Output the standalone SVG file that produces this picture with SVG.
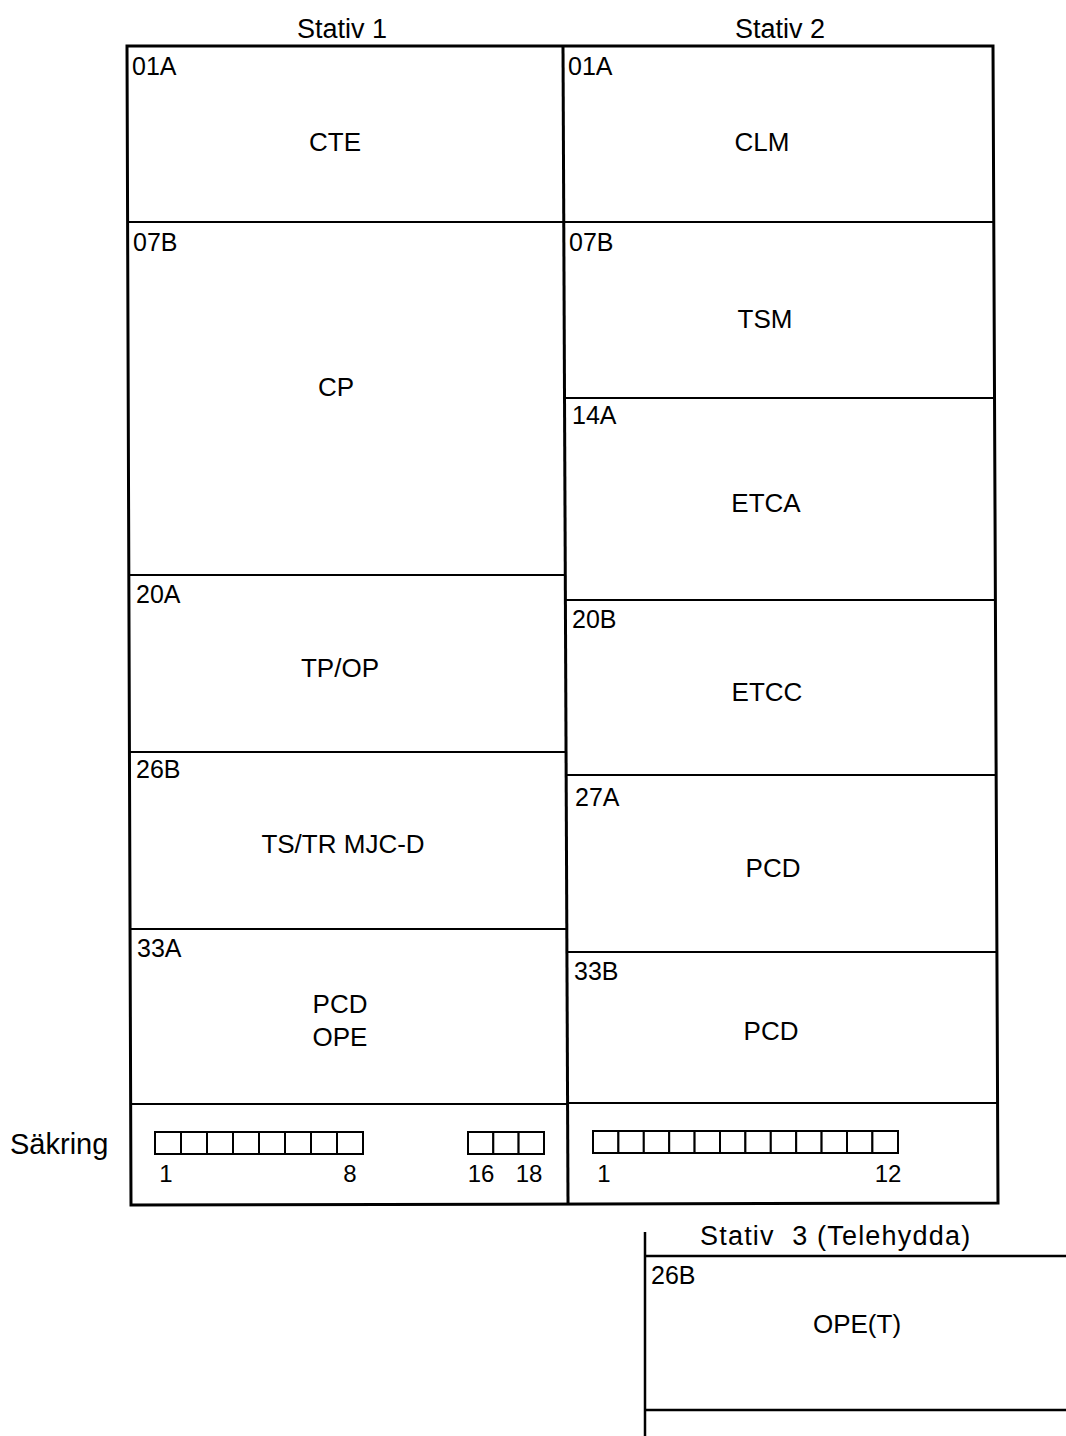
<svg xmlns="http://www.w3.org/2000/svg" width="1066" height="1436" viewBox="0 0 1066 1436">
<style>
text{font-family:"Liberation Sans","DejaVu Sans",sans-serif;fill:#000}
.t{font-size:27px}
.m{font-size:26px;text-anchor:middle}
.s{font-size:25px}
.n{font-size:24px;text-anchor:middle}
.frame{fill:none;stroke:#000;stroke-width:3}
.div{fill:none;stroke:#000;stroke-width:2.2}
.fuse{fill:#fff;stroke:#000;stroke-width:2}
</style>
<rect width="1066" height="1436" fill="#fff"/>
<g id="stativ1-title"><text class="t" x="342" y="38" text-anchor="middle">Stativ 1</text></g>
<g id="stativ2-title"><text class="t" x="780" y="38" text-anchor="middle">Stativ 2</text></g>
<g id="frame">
<path class="frame" d="M127,46 L993,46 L998,1203 L131,1205 Z"/>
<path class="frame" d="M563,46 L568,1204"/>
</g>
<g id="dividers">
<path class="div" d="M128,222 L564,222 M128,575 L565,575 M129,752 L566,752 M130,929 L567,929 M130,1104 L567,1104"/>
<path class="div" d="M564,222 L994,222 M565,398 L995,398 M566,600 L996,600 M566,775 L996,775 M567,952 L997,952 M567,1103 L997,1103"/>
</g>
<g id="s1-01A"><text class="s" x="132" y="75">01A</text><text class="m" x="335" y="151">CTE</text></g>
<g id="s1-07B"><text class="s" x="133" y="251">07B</text><text class="m" x="336" y="396">CP</text></g>
<g id="s1-20A"><text class="s" x="136" y="603">20A</text><text class="m" x="340" y="677">TP/OP</text></g>
<g id="s1-26B"><text class="s" x="136" y="778">26B</text><text class="m" x="343" y="853">TS/TR MJC-D</text></g>
<g id="s1-33A"><text class="s" x="137" y="957">33A</text><text class="m" x="340" y="1013">PCD</text><text class="m" x="340" y="1046">OPE</text></g>
<g id="s2-01A"><text class="s" x="568" y="75">01A</text><text class="m" x="762" y="151">CLM</text></g>
<g id="s2-07B"><text class="s" x="569" y="251">07B</text><text class="m" x="765" y="328">TSM</text></g>
<g id="s2-14A"><text class="s" x="572" y="424">14A</text><text class="m" x="766" y="512">ETCA</text></g>
<g id="s2-20B"><text class="s" x="572" y="628">20B</text><text class="m" x="767" y="701">ETCC</text></g>
<g id="s2-27A"><text class="s" x="575" y="806">27A</text><text class="m" x="773" y="877">PCD</text></g>
<g id="s2-33B"><text class="s" x="574" y="980">33B</text><text class="m" x="771" y="1040">PCD</text></g>
<g id="sakring">
<text x="10" y="1154" style="font-size:29px">Säkring</text>
<g id="fuses-s1">
<rect class="fuse" x="155" y="1132" width="26" height="22"/>
<rect class="fuse" x="181" y="1132" width="26" height="22"/>
<rect class="fuse" x="207" y="1132" width="26" height="22"/>
<rect class="fuse" x="233" y="1132" width="26" height="22"/>
<rect class="fuse" x="259" y="1132" width="26" height="22"/>
<rect class="fuse" x="285" y="1132" width="26" height="22"/>
<rect class="fuse" x="311" y="1132" width="26" height="22"/>
<rect class="fuse" x="337" y="1132" width="26" height="22"/>
<rect class="fuse" x="468" y="1132" width="25.3" height="22"/>
<rect class="fuse" x="493.3" y="1132" width="25.3" height="22"/>
<rect class="fuse" x="518.6" y="1132" width="25.4" height="22"/>
<text class="n" x="166" y="1182">1</text>
<text class="n" x="350" y="1182">8</text>
<text class="n" x="481" y="1182">16</text>
<text class="n" x="529" y="1182">18</text>
</g>
<g id="fuses-s2">
<rect class="fuse" x="593" y="1131" width="25.4" height="22"/>
<rect class="fuse" x="618.4" y="1131" width="25.4" height="22"/>
<rect class="fuse" x="643.8" y="1131" width="25.4" height="22"/>
<rect class="fuse" x="669.2" y="1131" width="25.4" height="22"/>
<rect class="fuse" x="694.6" y="1131" width="25.4" height="22"/>
<rect class="fuse" x="720" y="1131" width="25.4" height="22"/>
<rect class="fuse" x="745.4" y="1131" width="25.4" height="22"/>
<rect class="fuse" x="770.8" y="1131" width="25.4" height="22"/>
<rect class="fuse" x="796.2" y="1131" width="25.4" height="22"/>
<rect class="fuse" x="821.6" y="1131" width="25.4" height="22"/>
<rect class="fuse" x="847" y="1131" width="25.4" height="22"/>
<rect class="fuse" x="872.4" y="1131" width="25.6" height="22"/>
<text class="n" x="604" y="1182">1</text>
<text class="n" x="888" y="1182">12</text>
</g>
</g>
<g id="stativ3">
<path class="frame" d="M645,1232 L645,1436 M645,1256 L1066,1256 M645,1410 L1066,1410" style="stroke-width:2.5"/>
<text class="t" x="700" y="1245" style="letter-spacing:1.2px" xml:space="preserve">Stativ  3 (Telehydda)</text>
<g id="s3-26B"><text class="s" x="651" y="1284">26B</text><text class="m" x="857" y="1333">OPE(T)</text></g>
</g>
<g id="connectors"/>
</svg>
